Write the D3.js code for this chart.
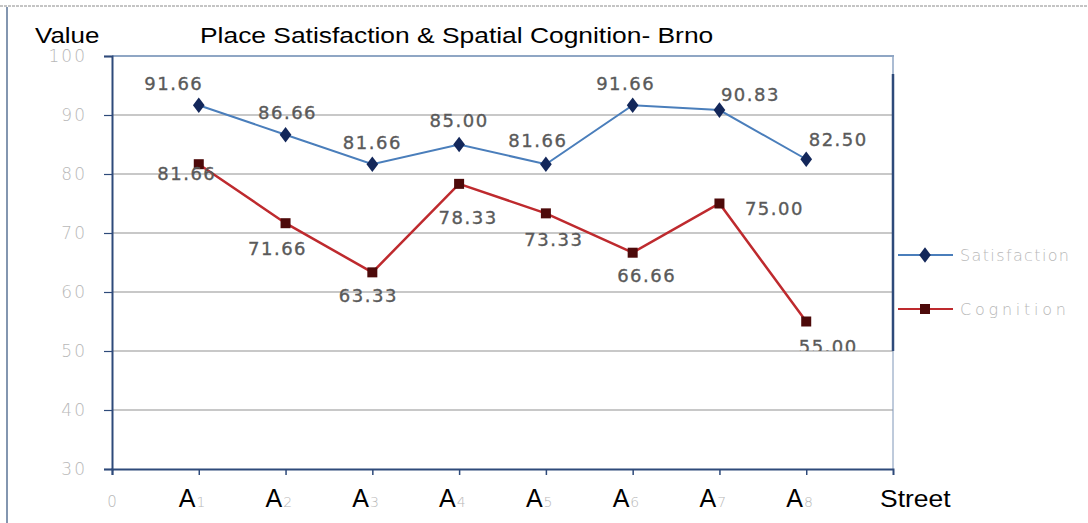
<!DOCTYPE html>
<html>
<head>
<meta charset="utf-8">
<script src="https://cdn.jsdelivr.net/npm/d3@7"></script>
<style>
  body { margin: 0; background: #fff; }
  svg { display: block; }
</style>
</head>
<body>
<svg id="chart" width="1088" height="523"></svg>
<script>
// chart data
var streets = ["A1", "A2", "A3", "A4", "A5", "A6", "A7", "A8"];
var satisfaction = [91.66, 86.66, 81.66, 85.00, 81.66, 91.66, 90.83, 82.50];
var cognition = [81.66, 71.66, 63.33, 78.33, 73.33, 66.66, 75.00, 55.00];
var yTicks = [30, 40, 50, 60, 70, 80, 90, 100];
var seriesNames = ["Satisfaction", "Cognition"];

var svg = d3.select("#chart");
var plotLeft = 112, plotRight = 893, plotTop = 56, plotBottom = 469;

var x = d3.scaleLinear().domain([0, 9]).range([plotLeft, plotRight]);
var y = d3.scaleLinear().domain([30, 100]).range([plotBottom, plotTop]);

var faint = "#b8b8b8";

// outer frame
svg.append("line")
  .attr("x1", 0).attr("x2", 1088).attr("y1", 6).attr("y2", 6)
  .style("stroke", "#8a8a8a").style("stroke-width", 1)
  .style("stroke-dasharray", "3,1");
svg.append("line")
  .attr("x1", 7).attr("x2", 7).attr("y1", 7).attr("y2", 523)
  .style("stroke", "#5a7396").style("stroke-width", 1.5);

// gridlines
svg.selectAll("line.grid")
  .data(yTicks.filter(d => d > 30 && d < 100))
  .enter()
  .append("line")
  .attr("class", "grid")
  .attr("x1", plotLeft).attr("x2", plotRight)
  .attr("y1", d => y(d)).attr("y2", d => y(d))
  .style("stroke", "#c8c8c8")
  .style("stroke-width", 2);

// plot border top / right
svg.append("line")
  .attr("x1", plotLeft).attr("x2", plotRight + 1).attr("y1", plotTop).attr("y2", plotTop)
  .style("stroke", "#8fa6c4").style("stroke-width", 2);
svg.append("line")
  .attr("x1", plotRight).attr("x2", plotRight).attr("y1", plotTop + 18).attr("y2", y(50))
  .style("stroke", "#2e4a7a").style("stroke-width", 2.5);
svg.append("line")
  .attr("x1", plotRight).attr("x2", plotRight).attr("y1", plotTop).attr("y2", plotTop + 18)
  .style("stroke", "#8fa6c4").style("stroke-width", 1.5);
svg.append("line")
  .attr("x1", plotRight).attr("x2", plotRight).attr("y1", y(50)).attr("y2", plotBottom)
  .style("stroke", "#7f96b8").style("stroke-width", 1);

// y axis
var yAxis = svg.append("g")
  .attr("transform", "translate(" + plotLeft + ",0)")
  .call(d3.axisLeft(y).tickValues(yTicks).tickSize(8).tickPadding(17));
yAxis.select(".domain").style("stroke", "#2e4a7a").style("stroke-width", 2);
yAxis.selectAll(".tick line").style("stroke", "#2e4a7a").style("stroke-width", 1.2);
yAxis.selectAll(".tick text")
  .style("font-family", "DejaVu Sans")
  .style("font-size", "17px")
  .style("font-weight", "200")
  .style("letter-spacing", "2px")
  .style("fill", faint);

// x axis
var xAxis = svg.append("g")
  .attr("transform", "translate(0," + plotBottom + ")")
  .call(d3.axisBottom(x).tickValues(d3.range(0, 10)).tickSize(6).tickFormat(""));
xAxis.select(".domain").style("stroke", "#2e4a7a").style("stroke-width", 2);
xAxis.selectAll(".tick line").style("stroke", "#2e4a7a").style("stroke-width", 1.5);
xAxis.selectAll(".tick").filter(d => d === 9).remove();

// x tick labels
svg.append("text")
  .attr("x", x(0)).attr("y", plotBottom + 38)
  .attr("text-anchor", "middle")
  .style("font-family", "DejaVu Sans").style("font-size", "15px")
  .style("font-weight", "200")
  .style("fill", faint)
  .text("0");

var xl = svg.selectAll("text.xlab")
  .data(streets)
  .enter()
  .append("text")
  .attr("class", "xlab")
  .attr("x", (d, i) => x(i + 1) - 20)
  .attr("y", plotBottom + 38)
  .style("font-family", "Liberation Sans, Arial")
  .style("font-size", "25px")
  .style("fill", "#000");
xl.append("tspan").text(d => d[0]);
xl.append("tspan")
  .attr("dx", 1)
  .style("font-size", "14px")
  .style("font-family", "DejaVu Sans")
  .style("font-weight", "200")
  .style("fill", faint)
  .text(d => d.slice(1));

// titles (source text is horizontally stretched)
svg.append("text")
  .attr("transform", "translate(35,43) scale(1.18,1)")
  .style("font-family", "Liberation Sans, Arial").style("font-size", "22px")
  .text("Value");
svg.append("text")
  .attr("transform", "translate(200,43) scale(1.2,1)")
  .style("font-family", "Liberation Sans, Arial").style("font-size", "22px")
  .text("Place Satisfaction & Spatial Cognition- Brno");
svg.append("text")
  .attr("transform", "translate(880,507) scale(1.15,1)")
  .style("font-family", "Liberation Sans, Arial").style("font-size", "23px")
  .text("Street");

// lines
var line = d3.line().x((d, i) => x(i + 1)).y(d => y(d));

svg.append("path")
  .datum(satisfaction)
  .attr("d", line)
  .style("fill", "none")
  .style("stroke", "#4a7ebb")
  .style("stroke-width", 2);

svg.append("path")
  .datum(cognition)
  .attr("d", line)
  .style("fill", "none")
  .style("stroke", "#be2a2e")
  .style("stroke-width", 2.5);

// markers
var diamond = d3.symbol().type(d3.symbolDiamond).size(70);
svg.selectAll("path.sat")
  .data(satisfaction)
  .enter()
  .append("path")
  .attr("class", "sat")
  .attr("d", diamond)
  .attr("transform", (d, i) => "translate(" + x(i + 1) + "," + y(d) + ") scale(1.3,1)")
  .style("fill", "#13275a");

svg.selectAll("rect.cog")
  .data(cognition)
  .enter()
  .append("rect")
  .attr("class", "cog")
  .attr("x", (d, i) => x(i + 1) - 5)
  .attr("y", d => y(d) - 5)
  .attr("width", 10)
  .attr("height", 10)
  .style("fill", "#4d0a0a");

// data labels
var satDx = [-26, 1, -1, -1, -9, -8, 30, 31];
var satDy = [-15, -16, -15, -18, -17, -15, -9, -13];
var cogDx = [-13, -9, -5, 8, 7, 13, 54, 21];
var cogDy = [16, 32, 30, 40, 33, 29, 11, 31];

svg.append("clipPath").attr("id", "labclip")
  .append("rect")
  .attr("x", 0).attr("y", 0).attr("width", plotRight).attr("height", y(50));

var labels = svg.append("g").attr("clip-path", "url(#labclip)");

function styleLabel(sel) {
  sel.attr("text-anchor", "middle")
    .style("font-family", "DejaVu Sans")
    .style("font-size", "18px")
    .style("letter-spacing", "1.5px")
    .style("fill", "#5a5a5a")
    .style("stroke", "#5a5a5a")
    .style("stroke-width", 0.35);
}

labels.selectAll("text.satlab")
  .data(satisfaction)
  .enter()
  .append("text")
  .attr("class", "satlab")
  .attr("x", (d, i) => x(i + 1) + satDx[i] + 1)
  .attr("y", (d, i) => y(d) + satDy[i])
  .call(styleLabel)
  .text(d => d.toFixed(2));

labels.selectAll("text.coglab")
  .data(cognition)
  .enter()
  .append("text")
  .attr("class", "coglab")
  .attr("x", (d, i) => x(i + 1) + cogDx[i] + 1)
  .attr("y", (d, i) => y(d) + cogDy[i])
  .call(styleLabel)
  .text(d => d.toFixed(2));

// legend
var legend = svg.selectAll("g.legend")
  .data(seriesNames)
  .enter()
  .append("g")
  .attr("class", "legend")
  .attr("transform", (d, i) => "translate(898," + (255 + i * 54) + ")");

legend.append("line")
  .attr("x1", 0).attr("x2", 55)
  .style("stroke", (d, i) => i === 0 ? "#4a7ebb" : "#be2a2e")
  .style("stroke-width", 2);

legend.each(function(d, i) {
  var g = d3.select(this);
  if (i === 0) {
    g.append("path").attr("d", diamond)
      .attr("transform", "translate(27,0) scale(1.3,1)")
      .style("fill", "#13275a");
  } else {
    g.append("rect").attr("x", 22).attr("y", -5).attr("width", 10).attr("height", 10)
      .style("fill", "#4d0a0a");
  }
});

legend.append("text")
  .attr("x", 62).attr("y", 6)
  .attr("textLength", (d, i) => i === 0 ? 109 : 106)
  .attr("lengthAdjust", "spacing")
  .style("font-family", "DejaVu Sans")
  .style("font-size", "16px")
  .style("font-weight", "200")
  .style("fill", faint)
  .text(d => d);
</script>
</body>
</html>
